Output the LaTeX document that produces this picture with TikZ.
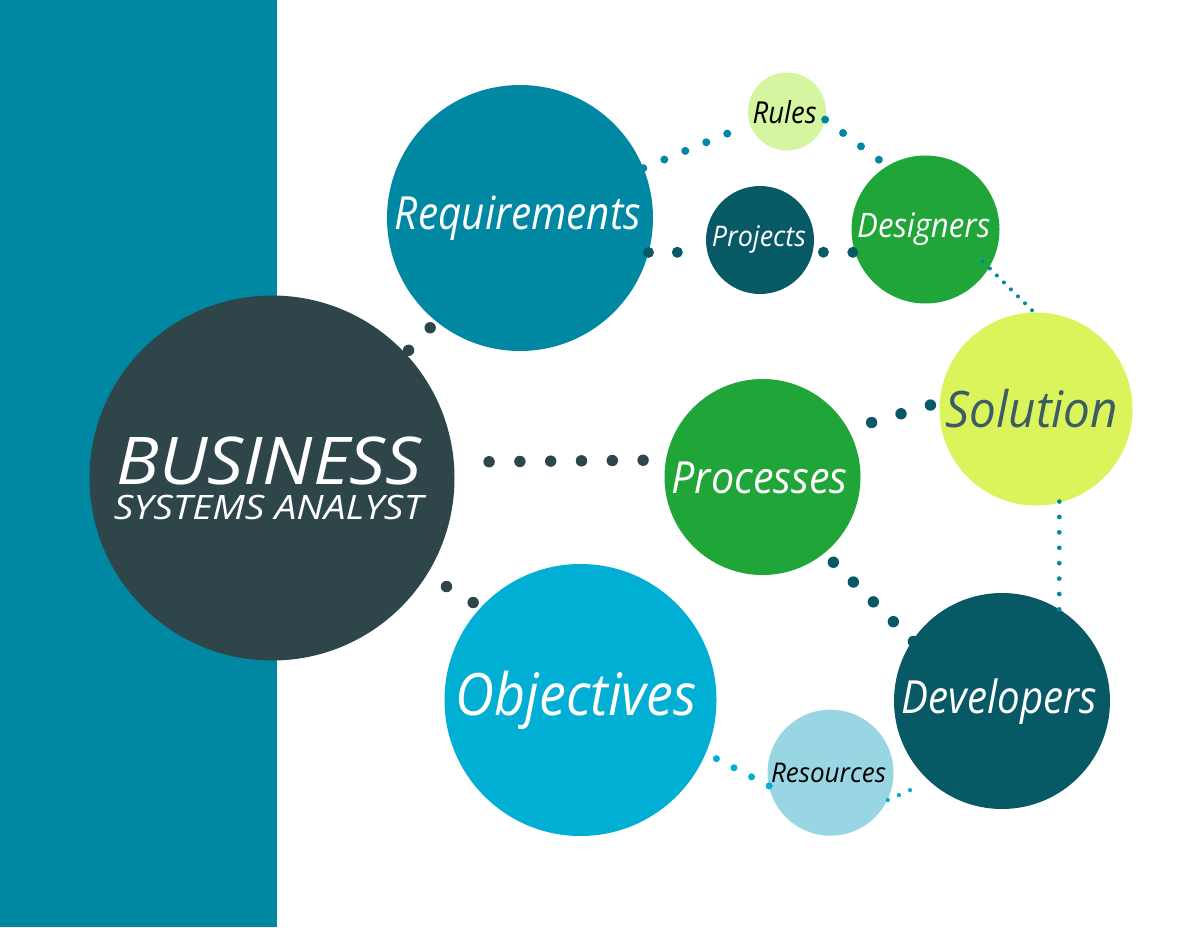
\documentclass[tikz,border=0pt]{standalone}
\usepackage{fontspec}
\setmainfont{Open Sans}
\usepackage{graphicx}
\definecolor{band}{HTML}{0088A3}
\definecolor{bizc}{HTML}{2E454A}
\definecolor{reqc}{HTML}{0088A3}
\definecolor{rulesc}{HTML}{D6F5A1}
\definecolor{projc}{HTML}{085966}
\definecolor{greenc}{HTML}{20A539}
\definecolor{solc}{HTML}{DCF45C}
\definecolor{solt}{HTML}{3D5C63}
\definecolor{objc}{HTML}{00AFD3}
\definecolor{resc}{HTML}{99D6E3}
\newcommand\fitw[3]{\resizebox{#1}{#2}{\raisebox{0pt}[\fontcharht\font`H][0pt]{#3}}}
\tikzset{
  bubble/.style={circle, inner sep=0pt, outer sep=0pt, draw=none},
  txt/.style={inner sep=0pt, outer sep=0pt, anchor=base, font=\itshape},
  dots/.style n args={3}{draw=#1, line width=#2, line cap=round, dash pattern=on 0pt off #3}
}
\begin{document}
\begin{tikzpicture}[x=1pt,y=-1pt]
\useasboundingbox (0,0) rectangle (1200,927);
\fill[white] (0,0) rectangle (1200,927);
\fill[band] (0,0) rectangle (277,927);

% circles
\node[bubble, fill=bizc,   minimum size=365pt] (biz)   at (272,478) {};
\node[bubble, fill=reqc,   minimum size=266pt] (req)   at (520,218) {};
\node[bubble, fill=rulesc, minimum size=78pt]  (rules) at (787,111.5) {};
\node[bubble, fill=projc,  minimum size=108pt] (proj)  at (760,240) {};
\node[bubble, fill=greenc, minimum size=148pt] (des)   at (925.5,229.5) {};
\node[bubble, fill=solc,   minimum size=193pt] (sol)   at (1036,409) {};
\node[bubble, fill=greenc, minimum size=196pt] (proc)  at (762.5,477) {};
\node[bubble, fill=objc,   minimum size=272pt] (obj)   at (580.5,700) {};
\node[bubble, fill=projc,  minimum size=216pt] (dev)   at (1002,701) {};
\node[bubble, fill=resc,   minimum size=126pt] (res)   at (830.5,772.7) {};

% dotted connectors
\draw[dots={bizc}{11.4pt}{30.8pt}, shorten <=35.3pt, shorten >=22.5pt] (biz.5.4) -- (proc.170.4);
\draw[dots={bizc}{11.4pt}{31.2pt}, shorten <=4.5pt, shorten >=8.5pt] (biz.43.0) -- (req.231.4);
\draw[dots={bizc}{11.4pt}{31.1pt}, shorten <=23.0pt, shorten >=8.6pt] (biz.-32.0) -- (obj.137.3);
\draw[dots={projc}{11pt}{28.85pt}, shorten >=1.3pt] (req.-15.1) -- (proj.193.6);
\draw[dots={projc}{11pt}{29.4pt}, shorten <=10.8pt, shorten >=2.0pt] (proj.-13.6) -- (des.198.3);
\draw[dots={reqc}{8pt}{22.7pt}, shorten >=23.6pt] (req.22.9) -- (rules.199.1);
\draw[dots={reqc}{8pt}{22.35pt}, shorten >=9.0pt] (rules.-12.3) -- (des.121.5);
\draw[dots={reqc}{4pt}{9.89pt}, shorten <=-8.6pt, shorten >=2.2pt] (des.-31.2) -- (sol.91.5);
\draw[dots={projc}{11.4pt}{30.7pt}, shorten <=24.4pt, shorten >=9.3pt] (proc.29.9) -- (sol.176.5);
\draw[dots={projc}{11.4pt}{28.15pt}, shorten <=12.9pt, shorten >=-1.3pt] (proc.-51.5) -- (dev.146.5);
\draw[dots={reqc}{4.7pt}{15.41pt}, shorten <=-1.1pt, shorten >=-1.3pt] (sol.-76.6) -- (dev.58.6);
\draw[dots={objc}{7pt}{19.8pt}, shorten <=12.05pt, shorten >=-0.85pt] (obj.-23.9) -- (res.192.0);
\draw[dots={objc}{4.3pt}{12.17pt}, shorten <=0.7pt, shorten >=9.5pt] (res.-26.1) -- (dev.228.3);

% texts
\node[txt, text=white] (bizt1) at (269.2,484) {\fitw{305pt}{47pt}{BUSINESS}};
\node[txt, text=white] (bizt2) at (268.5,519) {\fitw{309pt}{24pt}{SYSTEMS ANALYST}};
\node[txt, text=white] (reqt) at (518,229.3) {\fitw{246pt}{32.6pt}{Requirements}};
\node[txt, text=black] (rulest) at (784.7,123.3) {\fitw{64pt}{21.6pt}{Rules}};
\node[txt, text=white] (projt) at (758.9,246) {\fitw{94pt}{20.3pt}{Projects}};
\node[txt, text=white] (dest) at (923.7,237) {\fitw{133pt}{24.1pt}{Designers}};
\node[txt, text=solt] (solt) at (1031.9,427.9) {\fitw{172pt}{35.9pt}{Solution}};
\node[txt, text=white] (proct) at (759.5,493.3) {\fitw{176pt}{31.6pt}{Processes}};
\node[txt, text=white] (objt) at (576.3,715) {\fitw{241pt}{41.7pt}{Objectives}};
\node[txt, text=white] (devt) at (999.2,713.3) {\fitw{195pt}{32.6pt}{Developers}};
\node[txt, text=black] (rest) at (828.5,782.7) {\fitw{115pt}{19.4pt}{Resources}};
\end{tikzpicture}
\end{document}
